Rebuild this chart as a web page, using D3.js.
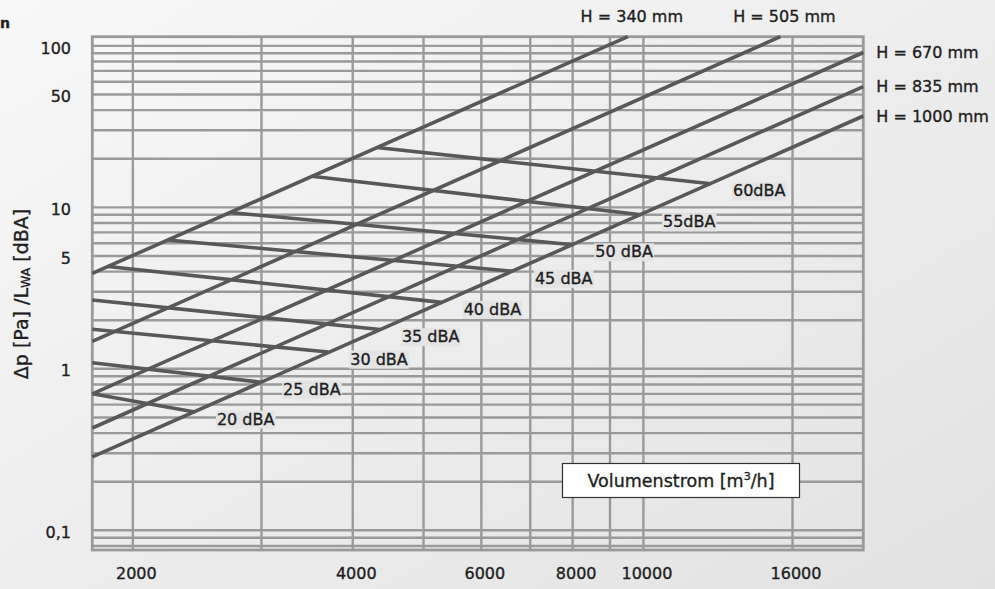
<!DOCTYPE html>
<html>
<head>
<meta charset="utf-8">
<script src="https://cdn.jsdelivr.net/npm/d3@7"></script>
<style>
  body { margin: 0; }
  svg { display: block; font-family: "DejaVu Sans", sans-serif; }
  svg text { stroke: #1e1e1e; stroke-width: 0.35px; fill: #1e1e1e; }
</style>
</head>
<body>
<svg id="chart" width="995" height="589"></svg>
<script>
// Volume flow grid lines and labelled ticks (m³/h)
const flowGrid = [2000, 3000, 4000, 5000, 6000, 7000, 8000, 9000, 10000, 16000];
const flowTickLabels = [2000, 4000, 6000, 8000, 10000, 16000];

// Pressure drop labelled ticks (Pa)
const dpTickValues = [0.1, 1, 5, 10, 50, 100];
const dpTickText = ["0,1", "1", "5", "10", "50", "100"];

// Pressure drop curves per unit height: [flow, Δp] at both ends
const heightNames = ["H = 340 mm", "H = 505 mm", "H = 670 mm", "H = 835 mm", "H = 1000 mm"];
const heightStart = [[1760, 3.9], [1760, 1.48], [1760, 0.70], [1760, 0.43], [1760, 0.285]];
const heightEnd = [[9520, 114], [15400, 114], [20000, 91], [20000, 56], [20000, 36.8]];

// Sound power level lines: [flow, Δp] at both ends
const noiseNames = ["20 dBA", "25 dBA", "30 dBA", "35 dBA", "40 dBA", "45 dBA", "50 dBA", "55dBA", "60dBA"];
const noiseStart = [[1760, 0.70], [1760, 1.09], [1760, 1.76], [1760, 2.67], [1849, 4.30],
                    [2234, 6.28], [2716, 9.29], [3515, 15.6], [4317, 23.5]];
const noiseEnd = [[2432, 0.54], [2996, 0.826], [3703, 1.27], [4358, 1.75], [5294, 2.58],
                  [6628, 4.02], [8017, 5.87], [9923, 9.0], [12373, 14.0]];

const svg = d3.select("#chart");
const W = 995, H = 589;

// Background
const defs = svg.append("defs");
const grad = defs.append("linearGradient").attr("id", "bg")
  .attr("x1", 0).attr("y1", 0).attr("x2", 1).attr("y2", 1);
grad.append("stop").attr("offset", "0%").attr("stop-color", "#f8f8f8");
grad.append("stop").attr("offset", "100%").attr("stop-color", "#e2e2e3");
svg.append("rect").attr("width", W).attr("height", H).attr("fill", "url(#bg)");

// Scales
const x = d3.scaleLog().domain([1760, 20000]).range([92.3, 863.3]);
const y = d3.scaleLog().domain([0.0755, 114]).range([550, 36.7]);

const gridColor = "#9a9a9a";
const grid = svg.append("g");

// Horizontal grid (every 1..9 × 10^n)
grid.selectAll("line.h").data(y.ticks()).join("line")
  .attr("x1", x.range()[0]).attr("x2", x.range()[1])
  .attr("y1", d => y(d)).attr("y2", d => y(d))
  .attr("stroke", gridColor).attr("stroke-width", 2.4);

// Vertical grid
grid.selectAll("line.v").data(flowGrid).join("line")
  .attr("x1", d => x(d)).attr("x2", d => x(d))
  .attr("y1", y.range()[0]).attr("y2", y.range()[1])
  .attr("stroke", gridColor).attr("stroke-width", 2.4);

// Frame
grid.append("rect")
  .attr("x", x.range()[0]).attr("y", y.range()[1])
  .attr("width", x.range()[1] - x.range()[0])
  .attr("height", y.range()[0] - y.range()[1])
  .attr("fill", "none").attr("stroke", gridColor).attr("stroke-width", 2.8);

// Axis tick labels
const yAxis = d3.axisLeft(y).tickValues(dpTickValues)
  .tickFormat((d, i) => dpTickText[i]).tickSize(0).tickPadding(0);
svg.append("g").attr("transform", "translate(71,2)").call(yAxis)
  .call(g => g.select(".domain").remove())
  .selectAll("text").attr("font-size", 16)
  .attr("font-family", "DejaVu Sans, sans-serif");

const xAxis = d3.axisBottom(x).tickValues(flowTickLabels)
  .tickFormat(d => String(d)).tickSize(0).tickPadding(0);
svg.append("g").attr("transform", "translate(3,568)").call(xAxis)
  .call(g => g.select(".domain").remove())
  .selectAll("text").attr("font-size", 16)
  .attr("font-family", "DejaVu Sans, sans-serif");

// Curves
const lineGen = d3.line().x(d => x(d[0])).y(d => y(d[1]));
const curveColor = "#58585a";
const curves = svg.append("g").attr("fill", "none")
  .attr("stroke", curveColor).attr("stroke-width", 3.6).attr("stroke-linecap", "butt");

curves.selectAll("path.noise").data(noiseNames).join("path")
  .attr("d", (d, i) => lineGen([noiseStart[i], noiseEnd[i]]));
curves.selectAll("path.height").data(heightNames).join("path")
  .attr("d", (d, i) => lineGen([heightStart[i], heightEnd[i]]));

// Sound level labels with a light backing box
const noiseLabels = svg.append("g");
noiseNames.forEach((name, i) => {
  const px = x(noiseEnd[i][0]) + 22;
  const py = y(noiseEnd[i][1]) + 7;
  const g = noiseLabels.append("g");
  const t = g.append("text").attr("x", px).attr("y", py).attr("dy", "0.35em")
    .attr("font-size", 16).text(name);
  const bb = t.node().getBBox();
  g.insert("rect", "text").attr("x", bb.x - 1).attr("y", bb.y + 1)
    .attr("width", bb.width + 2).attr("height", bb.height - 1)
    .attr("fill", "#e4e4e5");
});

// Height labels: above the end point if the line leaves through the top, else to the right
const heightLabels = svg.append("g").attr("font-size", 16);
heightNames.forEach((name, i) => {
  const ex = x(heightEnd[i][0]), ey = y(heightEnd[i][1]);
  const atTop = Math.abs(ey - y.range()[1]) < 1;
  heightLabels.append("text")
    .attr("x", atTop ? ex + 4 : ex + 13)
    .attr("y", atTop ? ey - 20 : ey)
    .attr("dy", "0.35em")
    .attr("text-anchor", atTop ? "middle" : "start")
    .text(name);
});

// Flow axis title box
const boxG = svg.append("g");
boxG.append("rect").attr("x", 562.5).attr("y", 463.5).attr("width", 237).attr("height", 34)
  .attr("fill", "#ffffff").attr("stroke", "#333").attr("stroke-width", 1.2);
const bt = boxG.append("text").attr("x", 681).attr("y", 487)
  .attr("text-anchor", "middle").attr("font-size", 17.5);
bt.append("tspan").text("Volumenstrom [m");
bt.append("tspan").attr("font-size", 11).attr("dy", -7).text("3");
bt.append("tspan").attr("dy", 7).text("/h]");

// Pressure / sound axis title
const yt = svg.append("text").attr("transform", "translate(28,294) rotate(-90)")
  .attr("text-anchor", "middle").attr("font-size", 19);
yt.append("tspan").text("\u0394p [Pa] /L");
yt.append("tspan").attr("font-size", 12.5).attr("dy", 2).text("WA");
yt.append("tspan").attr("dy", -2).text(" [dBA]");

// Edge of the heading
svg.append("text").attr("x", 0).attr("y", 28).attr("font-size", 14)
  .attr("font-weight", "bold").text("n");
</script>
</body>
</html>
